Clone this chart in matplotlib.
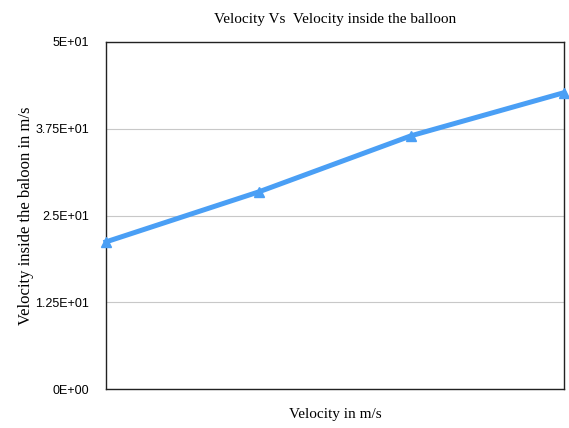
import matplotlib.pyplot as plt

# data
x_pos = [0, 1, 2, 3]
inside_velocity = [21.2, 28.4, 36.5, 42.7]
y_ticks = [0, 12.5, 25, 37.5, 50]
y_tick_labels = ["0E+00", "1.25E+01", "2.5E+01", "3.75E+01", "5E+01"]

W, H = 569, 428
fig = plt.figure(figsize=(W / 100, H / 100), dpi=100)
ax = fig.add_axes([106 / W, 1 - 389 / H, (564 - 106) / W, (389 - 42) / H])

ax.plot(x_pos, inside_velocity, color="#4a9ff5", linewidth=3.6, marker="^",
        markersize=7, clip_on=False, zorder=3)

ax.set_xlim(0, 3)
ax.set_ylim(0, 50)
ax.set_xticks([])
ax.set_yticks(y_ticks)
ax.set_yticklabels(y_tick_labels, fontfamily="Liberation Sans", fontsize=9)
ax.tick_params(axis="y", length=0, pad=12)
ax.grid(axis="y", color="#c8c8c8", linewidth=0.8)
ax.set_axisbelow(True)
for s in ax.spines.values():
    s.set_color("#222222")
    s.set_linewidth(1.0)

ax.set_title("Velocity Vs  Velocity inside the balloon", fontfamily="Liberation Serif",
             fontsize=11, pad=14)
ax.set_xlabel("Velocity in m/s", fontfamily="Liberation Serif", fontsize=11, labelpad=14)
ax.set_ylabel("Velocity inside the baloon in m/s", fontfamily="Liberation Serif",
              fontsize=12, labelpad=1)

fig.savefig("out.png", dpi=100)
